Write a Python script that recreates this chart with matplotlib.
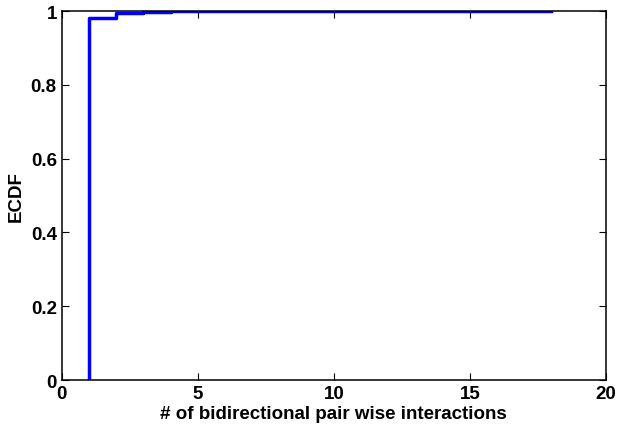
import matplotlib
matplotlib.use("Agg")
import matplotlib.pyplot as plt
import numpy as np

# step positions and ECDF levels
x_steps = np.array([1, 1, 2, 3, 4, 18])
ecdf = np.array([0.0, 0.982, 0.995, 0.998, 0.999, 1.0])

plt.rcParams['font.family'] = ['Liberation Sans', 'DejaVu Sans']
plt.rcParams['font.weight'] = 'bold'

fig = plt.figure(figsize=(6.17, 4.31), dpi=100)
ax = fig.add_axes([0.1, 0.116, 0.882, 0.856])

ax.plot(x_steps, ecdf, drawstyle='steps-post', color='#0000ff', linewidth=2.5)

ax.set_xlim(0, 20)
ax.set_ylim(0, 1)
ax.set_xticks([0, 5, 10, 15, 20])
ax.set_yticks([0, 0.2, 0.4, 0.6, 0.8, 1])
ax.set_yticklabels(['0', '0.2', '0.4', '0.6', '0.8', '1'])
ax.tick_params(direction='in', top=True, right=True, labelsize=13.5, width=0.8, length=5)
for lbl in ax.get_xticklabels() + ax.get_yticklabels():
    lbl.set_fontweight('bold')
for s in ax.spines.values():
    s.set_linewidth(1.1)

ax.set_xlabel('# of bidirectional pair wise interactions', fontsize=13.5, fontweight='bold', labelpad=2)
ax.set_ylabel('ECDF', fontsize=13.5, fontweight='bold', labelpad=4)

fig.savefig('out.png', dpi=100)
